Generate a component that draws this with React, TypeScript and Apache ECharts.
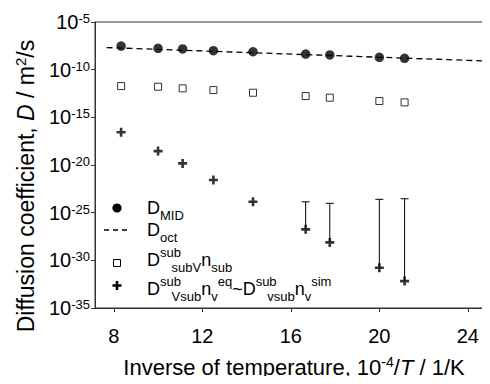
import React, { useEffect, useRef } from "react";
import * as echarts from "echarts";

const FONT = "'Liberation Sans', Arial, Helvetica, sans-serif";

// inverse temperature, 10^-4 / T (1/K)
const invT = [8.33, 10.0, 11.11, 12.5, 14.29, 16.67, 17.76, 20.0, 21.14];
// log10 of diffusion coefficients (m^2/s)
const logDMid = [-7.52, -7.76, -7.83, -8.01, -8.12, -8.36, -8.46, -8.7, -8.81];
const logDSub = [-11.72, -11.79, -11.96, -12.14, -12.42, -12.77, -12.94, -13.29, -13.43];
const logDVac = [-16.57, -18.54, -19.83, -21.58, -23.86, -26.75, -28.12, -30.78, -32.18];
// D_oct dashed line (end points)
const octInvT = [7.67, 24.8];
const logDOct = [-7.68, -9.09];
// error bars (sim) for the low temperature points
const errInvT = [16.67, 17.76, 20.0, 21.14];
const errLow = [-26.75, -28.12, -30.78, -32.18];
const errHigh = [-23.86, -24.02, -23.6, -23.54];

const xTicks = [8, 12, 16, 20, 24];

const PLUS = "path://M3.2,0H5.8V3.2H9V5.8H5.8V9H3.2V5.8H0V3.2H3.2Z";

let measureCtx: CanvasRenderingContext2D | null = null;
function measure(t: string, size: number) {
  if (!measureCtx) measureCtx = document.createElement("canvas").getContext("2d");
  measureCtx!.font = `${size}px ${FONT}`;
  return measureCtx!.measureText(t).width;
}

type Part = { t: string; k: "n" | "sup" | "sub" };
function richLine(x0: number, yc: number, parts: Part[]) {
  const els: any[] = [];
  let x = x0;
  let prevSup: { start: number; w: number } | null = null;
  for (const p of parts) {
    const size = p.k === "n" ? 18 : 13;
    let start = x;
    if (p.k === "sub" && prevSup) start = prevSup.start + prevSup.w * 0.55;
    const w = measure(p.t, size);
    const dy = p.k === "sup" ? -8 : p.k === "sub" ? 7.5 : 0;
    els.push({
      type: "text",
      x: start,
      y: yc + dy,
      style: {
        text: p.t,
        fontSize: size,
        lineHeight: p.k === "n" ? 18 : 12,
        fontFamily: FONT,
        fill: "#000",
        align: "left",
        verticalAlign: "middle",
      },
    });
    x = Math.max(x, start + w);
    prevSup = p.k === "sup" ? { start, w } : null;
  }
  return els;
}

export default function App() {
  const ref = useRef<HTMLDivElement>(null);
  useEffect(() => {
    const chart = echarts.init(ref.current!, null, { renderer: "svg" });
    const n = (t: string): Part => ({ t, k: "n" });
    const sp = (t: string): Part => ({ t, k: "sup" });
    const sb = (t: string): Part => ({ t, k: "sub" });
    const lx = 147;
    const legendEls: any[] = [
      { type: "circle", shape: { cx: 117, cy: 208, r: 4.6 }, style: { fill: "#000" } },
      {
        type: "line",
        shape: { x1: 104, y1: 230, x2: 130, y2: 230 },
        style: { stroke: "#000", lineWidth: 1.3, lineDash: [5, 4] },
      },
      {
        type: "rect",
        shape: { x: 113.5, y: 259.5, width: 7, height: 7 },
        style: { fill: "#fff", stroke: "#000", lineWidth: 1 },
      },
      {
        type: "polygon",
        shape: {
          points: [
            [115.7, 281], [118.3, 281], [118.3, 284.2], [121.5, 284.2], [121.5, 286.8],
            [118.3, 286.8], [118.3, 290], [115.7, 290], [115.7, 286.8], [112.5, 286.8],
            [112.5, 284.2], [115.7, 284.2],
          ],
        },
        style: { fill: "#000" },
      },
      ...richLine(lx, 208, [n("D"), sb("MID")]),
      ...richLine(lx, 230, [n("D"), sb("oct")]),
      ...richLine(lx, 260, [n("D"), sp("sub"), sb("subV"), n("n"), sb("sub")]),
      ...richLine(lx, 289, [
        n("D"), sp("sub"), sb("Vsub"), n("n"), sb("v"), sp("eq"), n("~"),
        n("D"), sp("sub"), sb("vsub"), n("n"), sb("v"), sp("sim"),
      ]),
    ];

    const option: any = {
      animation: false,
      backgroundColor: "#fff",
      textStyle: { fontFamily: FONT },
      grid: {
        left: 95,
        top: 22,
        width: 399,
        height: 286,
        show: true,
        borderColor: "#333",
        borderWidth: 1,
        backgroundColor: "transparent",
      },
      xAxis: {
        type: "value",
        min: 7.15,
        max: 25,
        axisLine: { show: true, lineStyle: { color: "#333", width: 1 } },
        axisTick: {
          show: true,
          inside: false,
          length: 4,
          customValues: xTicks,
          lineStyle: { color: "#333" },
        },
        axisLabel: {
          customValues: xTicks,
          fontSize: 20,
          color: "#000",
          margin: 18,
          fontFamily: FONT,
        },
        splitLine: { show: false },
      },
      yAxis: {
        type: "value",
        min: -35,
        max: -5,
        interval: 5,
        axisLine: { show: true, lineStyle: { color: "#333", width: 1 } },
        axisTick: { show: true, inside: false, length: 4, lineStyle: { color: "#333" } },
        axisLabel: {
          margin: 5,
          formatter: (v: number) => `{b|10}{s|${v}}`,
          rich: {
            b: { fontSize: 20, lineHeight: 20, color: "#000", fontFamily: FONT },
            s: {
              fontSize: 13,
              lineHeight: 13,
              color: "#000",
              fontFamily: FONT,
              verticalAlign: "top",
            },
          },
        },
        splitLine: { show: false },
      },
      series: [
        {
          type: "line",
          data: octInvT.map((x, i) => [x, logDOct[i]]),
          showSymbol: false,
          lineStyle: { color: "#000", width: 1.3, type: [6, 4] },
          z: 2,
        },
        {
          type: "scatter",
          data: invT.map((x, i) => [x, logDMid[i]]),
          symbol: "circle",
          symbolSize: 9.5,
          itemStyle: { color: "#000" },
          z: 3,
        },
        {
          type: "scatter",
          data: invT.map((x, i) => [x, logDSub[i]]),
          symbol: "rect",
          symbolSize: 7,
          itemStyle: { color: "#fff", borderColor: "#000", borderWidth: 1 },
          z: 3,
        },
        {
          type: "custom",
          data: errInvT.map((x, i) => [x, errLow[i], errHigh[i]]),
          encode: { x: 0, y: [1, 2] },
          renderItem: (params: any, api: any) => {
            const x = api.value(0);
            const p1 = api.coord([x, api.value(1)]);
            const p2 = api.coord([x, api.value(2)]);
            return {
              type: "group",
              children: [
                {
                  type: "line",
                  shape: { x1: p1[0], y1: p1[1], x2: p2[0], y2: p2[1] },
                  style: { stroke: "#000", lineWidth: 1 },
                },
                {
                  type: "line",
                  shape: { x1: p2[0] - 4, y1: p2[1], x2: p2[0] + 4, y2: p2[1] },
                  style: { stroke: "#000", lineWidth: 1 },
                },
              ],
            };
          },
          z: 2,
        },
        {
          type: "scatter",
          data: invT.map((x, i) => [x, logDVac[i]]),
          symbol: PLUS,
          symbolSize: 9,
          itemStyle: { color: "#000" },
          z: 4,
        },
      ],
      graphic: [
        ...legendEls,
        {
          type: "text",
          x: 26,
          y: 186,
          rotation: Math.PI / 2,
          style: {
            text: "Diffusion coefficient, {i|D} / m{s|2}/s",
            fontSize: 23,
            fontFamily: FONT,
            fill: "#000",
            align: "center",
            verticalAlign: "middle",
            rich: {
              i: { fontSize: 23, fontStyle: "italic", fontFamily: FONT, fill: "#000", lineHeight: 26 },
              s: { fontSize: 15, fontFamily: FONT, fill: "#000", verticalAlign: "top", lineHeight: 15 },
            },
          },
        },
        {
          type: "text",
          x: 294,
          y: 367,
          style: {
            text: "Inverse of temperature, 10{s|-4}/{i|T} / 1/K",
            fontSize: 22,
            fontFamily: FONT,
            fill: "#000",
            align: "center",
            verticalAlign: "middle",
            rich: {
              i: { fontSize: 22, fontStyle: "italic", fontFamily: FONT, fill: "#000", lineHeight: 24 },
              s: { fontSize: 14, fontFamily: FONT, fill: "#000", verticalAlign: "top", lineHeight: 14 },
            },
          },
        },
      ],
    };
    chart.setOption(option);
    return () => chart.dispose();
  }, []);
  return <div ref={ref} style={{ width: 490, height: 384, margin: -8 }} />;
}
